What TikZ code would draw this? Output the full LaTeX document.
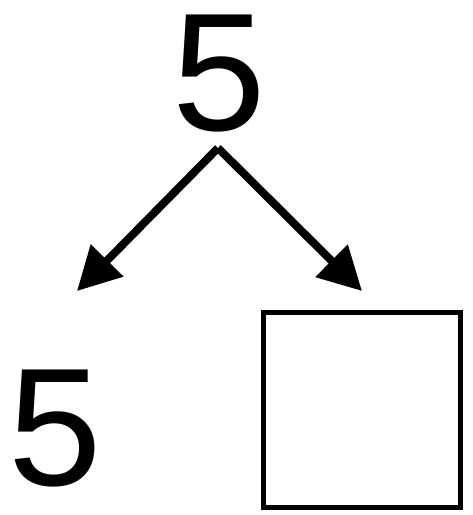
\documentclass[tikz,border=0pt]{standalone}
\usepackage{fontspec}
\setmainfont{Liberation Sans}
\usetikzlibrary{positioning, arrows.meta}

\begin{document}
\begin{tikzpicture}[x=1pt,y=-1pt,>={Triangle[length=43pt,width=44pt]},font=\fontsize{168}{168}\selectfont]
    \tikzstyle{digit}=[inner sep=0pt]
    \tikzstyle{blank}=[draw=black,line width=5pt,minimum width=197pt,minimum height=195pt,inner sep=0pt]
    \useasboundingbox (0,0) rectangle (473,515);

    \node[digit] (top) at (219.5,74) {5};
    \node[digit] (left) at (55.5,429) {5};
    \node[blank] (box) at (362,410) {};

    \coordinate (apex) at (218,148);
    \coordinate (tl) at (77,291);
    \coordinate (tr) at (362,291);

    \draw[->,line width=8pt] (apex) -- (tl);
    \draw[->,line width=8pt] (apex) -- (tr);
\end{tikzpicture}
\end{document}
